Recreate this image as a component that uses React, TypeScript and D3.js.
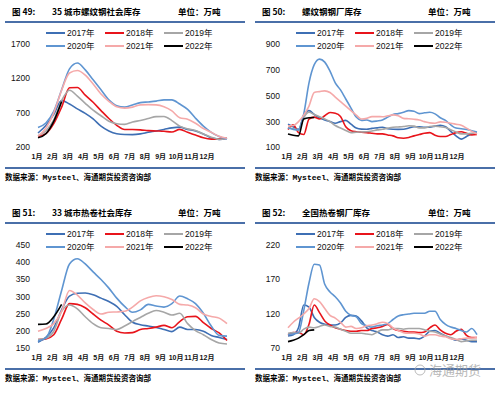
import React, { useRef, useEffect } from 'react';
import { select, scaleLinear, scalePoint, line, curveMonotoneX } from 'd3';

const months = ['1月', '2月', '3月', '4月', '5月', '6月', '7月', '8月', '9月', '10月', '11月', '12月'];
const years = ['2017年', '2018年', '2019年', '2020年', '2021年', '2022年'];
const colors = ['#3e6fb4', '#e8141b', '#a6a6a6', '#5f95d1', '#f5a9a9', '#000000'];

// 图49 35城市螺纹钢社会库存 (half-month steps)
const rebarSocial2017 = [410, 520, 680, 880, 830, 760, 695, 615, 510, 440, 400, 388, 387, 397, 420, 440, 462, 485, 495, 462, 440, 395, 340, 318, 335];
const rebarSocial2018 = [360, 400, 545, 785, 1065, 1070, 960, 855, 735, 620, 522, 460, 460, 455, 445, 440, 435, 425, 462, 420, 380, 340, 322, 325, 335];
const rebarSocial2019 = [370, 440, 600, 880, 1030, 945, 840, 740, 660, 580, 545, 535, 570, 592, 620, 648, 650, 590, 510, 470, 448, 395, 350, 318, 335];
const rebarSocial2020 = [490, 556, 724, 1036, 1340, 1425, 1325, 1181, 1036, 892, 806, 785, 815, 850, 860, 872, 890, 890, 830, 752, 625, 510, 420, 360, 325];
const rebarSocial2021 = [365, 480, 700, 1030, 1280, 1315, 1250, 1120, 975, 870, 790, 770, 785, 818, 822, 818, 790, 730, 630, 610, 552, 475, 420, 362, 335];
const rebarSocial2022 = [340, 400, 580, 865];

// 图50 螺纹钢钢厂库存 (third-month steps)
const rebarMill2017 = [280, 260, 240, 350, 385, 355, 330, 313, 300, 287, 300, 310, 280, 250, 242, 241, 248, 252, 257, 245, 241, 240, 241, 250, 260, 260, 256, 257, 265, 272, 260, 225, 190, 165, 185, 205, 210];
const rebarMill2018 = [240, 275, 215, 200, 320, 335, 320, 345, 370, 365, 340, 260, 230, 222, 218, 215, 210, 205, 205, 197, 190, 175, 172, 178, 190, 200, 210, 215, 195, 185, 185, 200, 215, 222, 210, 197, 200];
const rebarMill2019 = [257, 245, 236, 330, 372, 355, 338, 320, 300, 270, 250, 232, 215, 218, 220, 222, 228, 236, 241, 250, 257, 259, 262, 268, 265, 252, 252, 262, 265, 260, 255, 238, 220, 205, 205, 210, 210];
const rebarMill2020 = [250, 240, 235, 360, 600, 740, 783, 760, 690, 600, 545, 475, 405, 335, 310, 313, 300, 305, 313, 335, 355, 362, 372, 385, 380, 362, 368, 372, 360, 330, 310, 275, 250, 245, 240, 230, 220];
const rebarMill2021 = [267, 270, 300, 350, 420, 525, 532, 538, 525, 490, 455, 420, 385, 350, 320, 325, 339, 339, 338, 345, 352, 346, 325, 322, 318, 312, 300, 290, 288, 298, 295, 288, 280, 272, 250, 225, 205];
const rebarMill2022 = [205, 195, 190, 320, 330, 332];

// 图51 33城市热卷社会库存 (half-month steps)
const hrcSocial2017 = [168, 182, 210, 262, 302, 310, 311, 306, 296, 286, 272, 248, 226, 219, 215, 211, 205, 199, 212, 205, 205, 200, 188, 182, 176];
const hrcSocial2018 = [176, 178, 190, 235, 280, 278, 268, 250, 232, 218, 200, 195, 196, 205, 208, 212, 217, 210, 228, 242, 243, 225, 208, 195, 173];
const hrcSocial2019 = [176, 180, 200, 258, 276, 265, 242, 222, 210, 208, 205, 215, 228, 240, 252, 260, 255, 247, 252, 222, 202, 190, 176, 166, 163];
const hrcSocial2020 = [172, 180, 235, 318, 395, 410, 395, 372, 350, 325, 296, 272, 255, 262, 278, 273, 270, 280, 302, 294, 280, 252, 215, 188, 186];
const hrcSocial2021 = [200, 208, 222, 258, 318, 305, 282, 263, 250, 255, 256, 258, 270, 288, 298, 303, 300, 292, 278, 276, 268, 250, 243, 238, 222];
const hrcSocial2022 = [220, 221, 242, 278];

// 图52 全国热卷钢厂库存 (third-month steps)
const hrcMill2017 = [88, 90, 100, 133, 130, 115, 108, 105, 104, 104, 107, 115, 118, 117, 110, 100, 96, 94, 90, 88, 90, 86, 87, 85, 85, 84, 88, 95, 96, 92, 88, 85, 82, 84, 82, 80, 80];
const hrcMill2018 = [90, 93, 93, 90, 105, 133, 122, 110, 104, 100, 98, 96, 95, 95, 96, 96, 99, 100, 102, 105, 99, 96, 95, 94, 94, 93, 94, 100, 104, 97, 92, 90, 95, 98, 89, 86, 86];
const hrcMill2019 = [92, 93, 92, 98, 101, 100, 102, 104, 102, 101, 98, 95, 92, 92, 92, 91, 90, 94, 97, 97, 99, 99, 98, 99, 99, 99, 97, 95, 94, 91, 88, 86, 83, 80, 81, 82, 82];
const hrcMill2020 = [90, 91, 93, 125, 165, 192, 191, 163, 152, 145, 136, 124, 118, 116, 106, 103, 101, 103, 104, 106, 112, 117, 119, 120, 121, 121, 121, 124, 124, 112, 105, 101, 99, 96, 94, 99, 90];
const hrcMill2021 = [100, 108, 114, 120, 128, 142, 138, 128, 118, 114, 108, 101, 102, 99, 100, 103, 104, 106, 108, 106, 100, 96, 93, 92, 92, 91, 88, 90, 90, 88, 87, 84, 83, 84, 85, 85, 86];
const hrcMill2022 = [80, 82, 85, 90, 96, 97];

const panels = [
  { fig: '图 49:', title: '35 城市螺纹钢社会库存', ox: 0, oy: 0, domain: [200, 1700], ticks: [200, 700, 1200, 1700], step: 0.5,
    series: [rebarSocial2017, rebarSocial2018, rebarSocial2019, rebarSocial2020, rebarSocial2021, rebarSocial2022] },
  { fig: '图 50:', title: '螺纹钢钢厂库存', ox: 250, oy: 0, domain: [100, 900], ticks: [100, 300, 500, 700, 900], step: 1 / 3,
    series: [rebarMill2017, rebarMill2018, rebarMill2019, rebarMill2020, rebarMill2021, rebarMill2022] },
  { fig: '图 51:', title: '33 城市热卷社会库存', ox: 0, oy: 201, domain: [150, 450], ticks: [150, 200, 250, 300, 350, 400, 450], step: 0.5,
    series: [hrcSocial2017, hrcSocial2018, hrcSocial2019, hrcSocial2020, hrcSocial2021, hrcSocial2022] },
  { fig: '图 52:', title: '全国热卷钢厂库存', ox: 250, oy: 201, domain: [70, 220], ticks: [70, 120, 170, 220], step: 1 / 3,
    series: [hrcMill2017, hrcMill2018, hrcMill2019, hrcMill2020, hrcMill2021, hrcMill2022] },
];

const cjk = '"Noto Sans CJK SC", sans-serif';
const latin = '"Liberation Sans", Arial, "Noto Sans CJK SC", sans-serif';
const ruleColor = '#4a6fa8';

function App() {
  const svgRef = useRef(null);

  useEffect(() => {
    const svg = select(svgRef.current);
    svg.selectAll('*').remove();

    panels.forEach((p) => {
      const g = svg.append('g').attr('transform', `translate(${p.ox},${p.oy})`);
      const x = scaleLinear().domain([0, 12]).range([38, 227]);
      const y = scaleLinear().domain(p.domain).range([147.5, 44]);
      const xLabel = scalePoint().domain(months).range([37, 207]);

      // header
      g.append('text').attr('x', 12).attr('y', 15).attr('font-family', cjk).attr('font-weight', 700)
        .attr('font-size', 8.5).text(p.fig);
      g.append('text').attr('x', 52).attr('y', 15).attr('font-family', cjk).attr('font-weight', 700)
        .attr('font-size', 8.5).text(p.title);
      g.append('text').attr('x', 178).attr('y', 15).attr('font-family', cjk).attr('font-weight', 700)
        .attr('font-size', 8.5).text('单位：万吨');
      g.append('line').attr('x1', 5).attr('x2', 245).attr('y1', 22).attr('y2', 22)
        .attr('stroke', ruleColor).attr('stroke-width', 2);

      // legend
      years.forEach((yr, i) => {
        const col = i % 3;
        const row = Math.floor(i / 3);
        const lx = [46, 105, 164][col];
        const ly = 33 + row * 13;
        g.append('line').attr('x1', lx).attr('x2', lx + 19).attr('y1', ly).attr('y2', ly)
          .attr('stroke', colors[i]).attr('stroke-width', 2);
        g.append('text').attr('x', lx + 21).attr('y', ly).attr('dy', '0.35em')
          .attr('font-family', latin).attr('font-size', 8.5).attr('fill', '#111').text(yr);
      });

      // y tick labels
      g.selectAll('.ytick').data(p.ticks).join('text').attr('class', 'ytick')
        .attr('x', 30).attr('y', (d) => y(d)).attr('dy', '0.35em').attr('text-anchor', 'end')
        .attr('font-family', latin).attr('font-size', 8.5).attr('fill', '#111').text((d) => d);

      // month labels
      g.selectAll('.xtick').data(months).join('text').attr('class', 'xtick')
        .attr('x', (d) => xLabel(d)).attr('y', 157).attr('dy', '0.35em').attr('text-anchor', 'middle')
        .attr('font-family', latin).attr('font-weight', 700).attr('font-size', 7).attr('fill', '#111').text((d) => d);

      // series
      p.series.forEach((s, i) => {
        const gen = line().x((d, j) => x(j * p.step)).y((d) => y(d)).curve(curveMonotoneX);
        g.append('path').datum(s).attr('d', gen).attr('fill', 'none')
          .attr('stroke', colors[i]).attr('stroke-width', 1.6).attr('stroke-linejoin', 'round');
      });

      // footer
      g.append('line').attr('x1', 5).attr('x2', 245).attr('y1', 168).attr('y2', 168)
        .attr('stroke', ruleColor).attr('stroke-width', 2);
      const src = g.append('text').attr('x', 5).attr('y', 180).attr('font-family', cjk)
        .attr('font-weight', 700).attr('font-size', 7.5);
      src.append('tspan').text('数据来源：');
      src.append('tspan').attr('font-family', '"Liberation Mono", monospace').attr('font-size', 8).text('Mysteel');
      src.append('tspan').text('、海通期货投资咨询部');
    });

    // watermark
    svg.append('circle').attr('cx', 420).attr('cy', 370).attr('r', 5).attr('fill', 'none')
      .attr('stroke', '#aaa').attr('stroke-width', 1).attr('opacity', 0.8);
    svg.append('text').attr('x', 429).attr('y', 375).attr('font-family', cjk).attr('font-size', 13)
      .attr('fill', '#9a9a9a').attr('opacity', 0.7).text('海通期货');
  }, []);

  return (
    <svg ref={svgRef} width={500} height={393}
      style={{ position: 'absolute', left: 0, top: 0, background: '#fff' }} />
  );
}

export default App;
